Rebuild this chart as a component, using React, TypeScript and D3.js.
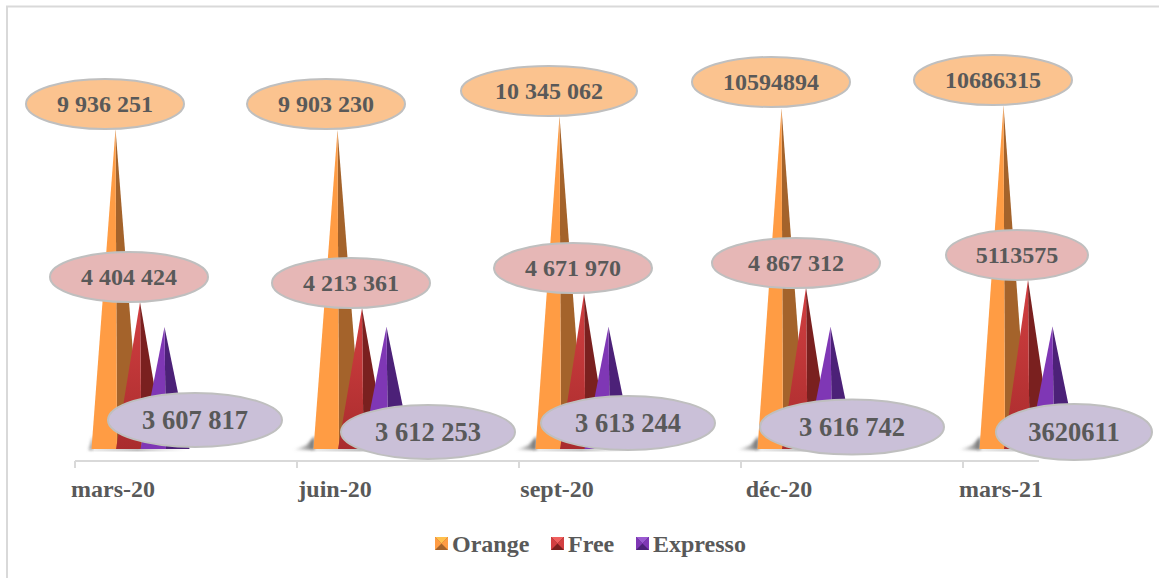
import React from "react";
import * as d3 from "d3";

const categories = ["mars-20", "juin-20", "sept-20", "déc-20", "mars-21"];
const seriesNames = ["Orange", "Free", "Expresso"];
const orangeValues = [9936251, 9903230, 10345062, 10594894, 10686315];
const freeValues = [4404424, 4213361, 4671970, 4867312, 5113575];
const expressoValues = [3607817, 3612253, 3613244, 3616742, 3620611];
const orangeLabels = ["9 936 251", "9 903 230", "10 345 062", "10594894", "10686315"];
const freeLabels = ["4 404 424", "4 213 361", "4 671 970", "4 867 312", "5113575"];
const expressoLabels = ["3 607 817", "3 612 253", "3 613 244", "3 616 742", "3620611"];

const W = 1159, H = 578;
const BASE = 449;
const x = d3.scaleBand<string>().domain(categories).range([75, 75 + 222 * 5]).padding(0);
const inner = d3.scalePoint<string>().domain(seriesNames).range([41, 90]);
const y = d3.scaleLinear().domain([-290000, 11000000]).range([BASE, 95.6]);
const HALF = 24.5;

const values: Record<string, number[]> = { Orange: orangeValues, Free: freeValues, Expresso: expressoValues };
const labels: Record<string, string[]> = { Orange: orangeLabels, Free: freeLabels, Expresso: expressoLabels };
const colors: Record<string, { light: string; lightEnd: string; dark: string; fill: string; top: string }> = {
  Orange: { light: "#FF9C44", lightEnd: "#FF9C44", dark: "#A4632B", fill: "#FBC38F", top: "#FFC04D" },
  Free: { light: "#D23F41", lightEnd: "#A92C2D", dark: "#7A201F", fill: "#E6B7B6", top: "#F0605F" },
  Expresso: { light: "#7F37B5", lightEnd: "#7F37B5", dark: "#4C2178", fill: "#CAC0D8", top: "#9A5AD0" },
};
// label ellipse placement per series: [cx, cy, rx, ry]
const orangeEllipses = [[105, 104, 79, 25], [326, 104, 79, 25], [549, 91, 88, 25], [771, 82, 79, 25], [993, 80, 79, 25]];
const freeEllipses = [[129, 277, 79, 25], [351, 283, 79, 25], [573, 268, 79, 25], [796, 263, 84, 25], [1017, 255, 71, 25]];
const expressoEllipses = [[195, 420, 87, 27], [428, 432, 87, 27], [628, 423, 87, 27], [852, 427, 92, 27.5], [1074, 432, 78, 28]];
const ellipses: Record<string, number[][]> = { Orange: orangeEllipses, Free: freeEllipses, Expresso: expressoEllipses };
const labelSizes: Record<string, number> = { Orange: 24, Free: 24, Expresso: 26.5 };
const shadowWidths = [4, 20, 20, 20, 20];

const line = d3.line();
const FONT = "'Liberation Serif', 'Times New Roman', serif";
const TEXT = "#595959";

export default function App() {
  const legendX: Record<string, number> = { Orange: 435, Free: 551, Expresso: 636 };
  return (
    <svg width={W} height={H} style={{ position: "absolute", left: 0, top: 0, background: "#fff" }} fontFamily={FONT}>
      <defs>
        {seriesNames.map((s) => (
          <linearGradient key={s} id={`g-${s}`} x1="0" y1="0" x2="0" y2="1">
            <stop offset="0" stopColor={colors[s].light} />
            <stop offset="1" stopColor={colors[s].lightEnd} />
          </linearGradient>
        ))}
        <linearGradient id="shadow" x1="0" y1="0" x2="1" y2="0">
          <stop offset="0" stopColor="#909090" stopOpacity="0.1" />
          <stop offset="1" stopColor="#606060" stopOpacity="0.95" />
        </linearGradient>
        <linearGradient id="shadowBase" x1="0" y1="0" x2="1" y2="0">
          <stop offset="0" stopColor="#bbb" stopOpacity="0.2" />
          <stop offset="0.5" stopColor="#aaa" stopOpacity="0.7" />
          <stop offset="1" stopColor="#ccc" stopOpacity="0" />
        </linearGradient>
        <filter id="soft" x="-30%" y="-30%" width="160%" height="160%">
          <feGaussianBlur stdDeviation="1.6" />
        </filter>
      </defs>
      <path d="M1159,6.5H7V578" fill="none" stroke="#d9d9d9" strokeWidth={2} />

      {/* axis */}
      <path d={`M${x.range()[0]},461H1039`} stroke="#d9d9d9" strokeWidth={2} fill="none" />
      {categories.map((c) => (
        <line key={c} x1={x(c)} x2={x(c)} y1={461} y2={468} stroke="#d9d9d9" strokeWidth={2} />
      ))}

      {/* base shadows */}
      {categories.map((c, i) => {
        const left = x(c)! + inner("Orange")! - HALF;
        return (
          <g key={c}>
            <path
              d={line([[left + 1, 436], [left - shadowWidths[i] * 0.35, 445], [left - shadowWidths[i], BASE + 1], [left + 1, BASE + 1]])!}
              fill="url(#shadow)"
              filter="url(#soft)"
            />
            <rect x={left - 3} y={BASE} width={98} height={2.5} fill="url(#shadowBase)" />
          </g>
        );
      })}

      {/* pyramids */}
      {categories.map((c, i) => (
        <g key={c}>
          {seriesNames.map((s) => {
            const cx = x(c)! + inner(s)!;
            const top = y(values[s][i]);
            const peak: [number, number] = [cx - 0.5, top];
            const mid: [number, number] = [cx + 1, BASE];
            return (
              <g key={s}>
                <path d={line([peak, [cx + HALF, BASE], mid])!} fill={colors[s].dark} />
                <path d={line([peak, mid, [cx - HALF, BASE]])!} fill={`url(#g-${s})`} />
              </g>
            );
          })}
        </g>
      ))}

      {/* data labels */}
      {seriesNames.map((s) =>
        categories.map((c, i) => {
          const [cx, cy, rx, ry] = ellipses[s][i];
          const size = labelSizes[s];
          return (
            <g key={s + c}>
              <ellipse cx={cx} cy={cy} rx={rx} ry={ry} fill={colors[s].fill} stroke="#bfbfbf" strokeWidth={2} />
              <text x={cx} y={cy + size * 0.33} textAnchor="middle" fontSize={size} fontWeight="bold" fill={TEXT}>
                {labels[s][i]}
              </text>
            </g>
          );
        })
      )}

      {/* category labels */}
      {categories.map((c) => (
        <text key={c} x={x(c)! + 38} y={497} textAnchor="middle" fontSize={24} fontWeight="bold" fill={TEXT}>
          {c}
        </text>
      ))}

      {/* legend */}
      {seriesNames.map((s) => {
        const lx = legendX[s], ly = 537, sz = 13;
        const c = [lx + sz / 2, ly + sz / 2] as [number, number];
        return (
          <g key={s}>
            <rect x={lx} y={ly} width={sz} height={sz} fill={colors[s].dark} />
            <path d={line([[lx, ly], [lx + sz, ly], c])!} fill={colors[s].top} />
            <path d={line([[lx, ly], c, [lx, ly + sz]])!} fill={colors[s].light} />
            <path d={line([[lx + sz, ly], c, [lx + sz, ly + sz]])!} fill={colors[s].light} />
            <text x={lx + sz + 4} y={552} fontSize={24} fontWeight="bold" fill={TEXT}>
              {s}
            </text>
          </g>
        );
      })}
    </svg>
  );
}
